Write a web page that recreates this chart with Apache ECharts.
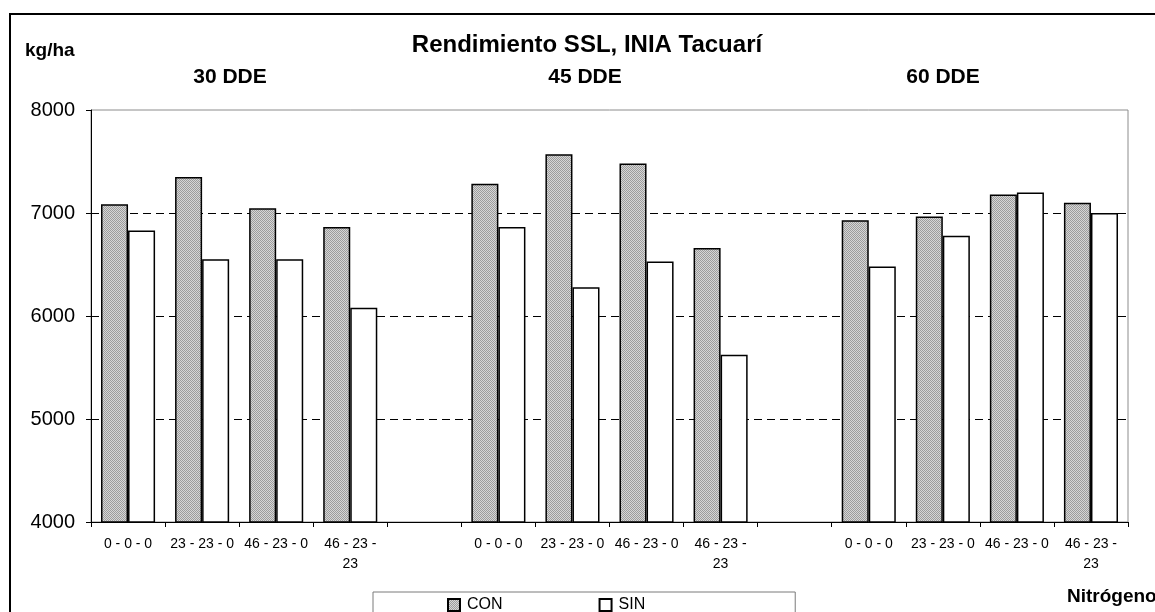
<!DOCTYPE html>
<html>
<head>
<meta charset="utf-8">
<script src="https://cdn.jsdelivr.net/npm/echarts@6/dist/echarts.min.js"></script>
<style>
html,body{margin:0;padding:0;background:#fff;}
#chart{width:1155px;height:612px;}
</style>
</head>
<body>
<div id="chart"></div>
<script>
// ---- data ----
var categories = ['0 - 0 - 0', '23 - 23 - 0', '46 - 23 - 0', '46 - 23 -\n23', '',
                  '0 - 0 - 0', '23 - 23 - 0', '46 - 23 - 0', '46 - 23 -\n23', '',
                  '0 - 0 - 0', '23 - 23 - 0', '46 - 23 - 0', '46 - 23 -\n23'];
var conValues = [7085, 7350, 7045, 6865, null, 7285, 7570, 7480, 6660, null, 6930, 6965, 7180, 7100];
var sinValues = [6830, 6550, 6550, 6080, null, 6865, 6280, 6530, 5625, null, 6480, 6780, 7200, 7000];
var seriesNames = ['CON', 'SIN'];
var groupLabels = ['30 DDE', '45 DDE', '60 DDE'];
var chartTitle = 'Rendimiento SSL, INIA Tacuarí';
var yAxisName = 'kg/ha';
var xAxisName = 'Nitrógeno';

// ---- gray dotted pattern ----
var pc = document.createElement('canvas');
pc.width = 2; pc.height = 2;
var pctx = pc.getContext('2d');
pctx.fillStyle = '#d6d6d6'; pctx.fillRect(0, 0, 2, 2);
pctx.fillStyle = '#9c9c9c'; pctx.fillRect(0, 0, 1, 1); pctx.fillRect(1, 1, 1, 1);
var grayPattern = { image: pc, repeat: 'repeat' };

var chart = echarts.init(document.getElementById('chart'), null, { renderer: 'canvas' });

function bf(s) { return 'bold ' + s + 'px "Liberation Sans", Arial, sans-serif'; }
function txt(t, x, y, size, align) {
  return { type: 'text', x: x, y: y, silent: true,
    style: { text: t, font: bf(size), fill: '#000', align: align, verticalAlign: 'middle', textAlign: align, textVerticalAlign: 'middle' } };
}

var option = {
  animation: false,
  backgroundColor: '#fff',
  textStyle: { fontFamily: '"Liberation Sans", Arial, sans-serif' },
  grid: { left: 91, top: 110, right: 27, bottom: 90, show: true, borderColor: '#8c8c8c', borderWidth: 1, backgroundColor: 'transparent' },
  legend: {
    data: seriesNames,
    left: 373, top: 592,
    padding: [5, 150, 40, 74],
    itemGap: 96,
    itemWidth: 12, itemHeight: 12,
    icon: 'rect',
    borderColor: '#7a7a7a', borderWidth: 1,
    textStyle: { fontSize: 16, color: '#000', fontFamily: '"Liberation Sans", Arial, sans-serif', padding: [0, 0, 0, 2] }
  },
  xAxis: {
    type: 'category',
    data: categories,
    boundaryGap: true,
    axisLine: { lineStyle: { color: '#000', width: 1 } },
    axisTick: { show: true, alignWithLabel: false, length: 5, lineStyle: { color: '#000' } },
    axisLabel: { interval: 0, fontSize: 14, color: '#000', margin: 12, lineHeight: 20 },
    splitLine: { show: false }
  },
  yAxis: {
    type: 'value',
    min: 4000, max: 8000, interval: 1000,
    axisLine: { show: true, lineStyle: { color: '#000', width: 1 } },
    axisTick: { show: true, length: 5, lineStyle: { color: '#000' } },
    axisLabel: { fontSize: 20, color: '#000', margin: 16, formatter: function (v) { return String(v); } },
    splitLine: { show: true, showMinLine: false, showMaxLine: false, lineStyle: { color: '#000', type: [8, 5], width: 1 } }
  },
  series: [
    {
      name: seriesNames[0], type: 'bar', data: conValues,
      barGap: '0%', barCategoryGap: '27%',
      itemStyle: { color: grayPattern, borderColor: '#000', borderWidth: 1.5 }
    },
    {
      name: seriesNames[1], type: 'bar', data: sinValues,
      barGap: '0%', barCategoryGap: '27%',
      itemStyle: { color: '#fff', borderColor: '#000', borderWidth: 1.5 }
    }
  ],
  graphic: [
    { type: 'rect', z: -10, silent: true, shape: { x: 10, y: 14, width: 1400, height: 900 }, style: { fill: 'none', stroke: '#000', lineWidth: 2 } },
    txt(chartTitle, 587, 45, 24, 'center'),
    txt(groupLabels[0], 230, 77, 21, 'center'),
    txt(groupLabels[1], 585, 77, 21, 'center'),
    txt(groupLabels[2], 943, 77, 21, 'center'),
    txt(yAxisName, 25, 51, 19, 'left'),
    txt(xAxisName, 1067, 597, 19, 'left')
  ]
};
chart.setOption(option);
</script>
</body>
</html>
